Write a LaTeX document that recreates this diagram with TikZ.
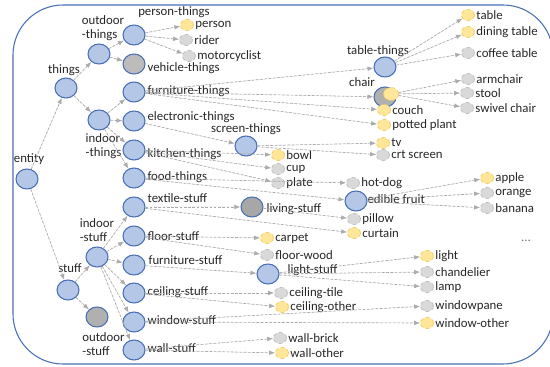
\documentclass[tikz,border=0pt]{standalone}
\usepackage{fontspec}
\setmainfont{Carlito}
\usetikzlibrary{shapes.geometric, arrows.meta}

\definecolor{nodeblue}{HTML}{B4C7E7}
\definecolor{lineblue}{HTML}{4A6FB5}
\definecolor{nodegrey}{HTML}{B0B0B0}
\definecolor{leafyellow}{HTML}{FFE699}
\definecolor{leafyellowline}{HTML}{F2C85A}
\definecolor{leafgrey}{HTML}{D9D9D9}
\definecolor{leafgreyline}{HTML}{BBBBBB}
\definecolor{linkgrey}{HTML}{ABABAB}

\begin{document}
\begin{tikzpicture}[
    x=0.75pt, y=-0.75pt,
    big/.style={ellipse, draw=lineblue, line width=0.8pt, fill=nodeblue, minimum width=16.5pt, minimum height=15pt, inner sep=0pt},
    biggrey/.style={big, fill=nodegrey},
    leaf/.style={ellipse, densely dashed, line width=0.5pt, minimum width=9.75pt, minimum height=8.25pt, inner sep=0pt, label distance=1.5pt},
    yleaf/.style={leaf, draw=leafyellowline, fill=leafyellow, label={[lbl]right:#1}},
    gleaf/.style={leaf, draw=leafgreyline, fill=leafgrey, label={[lbl]right:#1}},
    lbl/.style={font=\fontsize{9.6}{10.5}\selectfont, text=black!85, inner sep=1pt},
    link/.style={-{Latex[length=4.5pt, width=3.5pt]}, draw=linkgrey, fill=linkgrey, dash pattern=on 2pt off 1.2pt, line width=0.5pt},
]
\useasboundingbox (0,0) rectangle (550,367);

% frame
\draw[lineblue, line width=0.8pt, rounded corners=37.5pt] (13,5) rectangle (553,364);

%% NODES
    % root and first levels
    \node[big] (entity) at (27,179) {};
    \node[lbl] (entity_l) at (29,159) {entity};
    \node[big] (things) at (66,88) {};
    \node[lbl] (things_l) at (64,70) {things};
    \node[big] (stuff) at (68,290) {};
    \node[lbl] (stuff_l) at (70,268) {stuff};

    \node[big] (outdoor_things) at (99,54) {};
    \node[lbl, align=left] (outdoor_things_l) at (103,28.5) {outdoor\\-things};
    \node[big] (indoor_things) at (99,120) {};
    \node[lbl, align=left] (indoor_things_l) at (103.5,146) {indoor\\-things};
    \node[big] (indoor_stuff) at (97,257) {};
    \node[lbl, align=left] (indoor_stuff_l) at (97,230.5) {indoor\\-stuff};
    \node[biggrey] (outdoor_stuff) at (97,317) {};
    \node[lbl, align=left] (outdoor_stuff_l) at (103.5,344.5) {outdoor\\-stuff};

    % things
    \node[big] (person_things) at (134,35) {};
    \node[lbl] (person_things_l) at (174,12.5) {person-things};
    \node[biggrey, fill=nodegrey!85] (vehicle_things) at (134,64) {};
    \node[lbl, anchor=west] (vehicle_things_l) at (146,68) {vehicle-things};
    \node[big] (furniture_things) at (134,92) {};
    \node[lbl, anchor=west] (furniture_things_l) at (146,91) {furniture-things};
    \node[big] (electronic_things) at (134,121) {};
    \node[lbl, anchor=west] (electronic_things_l) at (146,117) {electronic-things};
    \node[big] (kitchen_things) at (134,150) {};
    \node[lbl, anchor=west] (kitchen_things_l) at (146,154) {kitchen-things};
    \node[big] (food_things) at (134,178) {};
    \node[lbl, anchor=west] (food_things_l) at (146,177) {food-things};

    % stuff
    \node[big] (textile_stuff) at (134,207) {};
    \node[lbl, anchor=west] (textile_stuff_l) at (146,198) {textile-stuff};
    \node[big] (floor_stuff) at (134,236) {};
    \node[lbl, anchor=west] (floor_stuff_l) at (146,236) {floor-stuff};
    \node[big] (furniture_stuff) at (134,265) {};
    \node[lbl, anchor=west] (furniture_stuff_l) at (147,260) {furniture-stuff};
    \node[big] (ceiling_stuff) at (134,293) {};
    \node[lbl, anchor=west] (ceiling_stuff_l) at (146,292) {ceiling-stuff};
    \node[big] (window_stuff) at (134,322) {};
    \node[lbl, anchor=west] (window_stuff_l) at (146,320) {window-stuff};
    \node[big] (wall_stuff) at (134,350) {};
    \node[lbl, anchor=west] (wall_stuff_l) at (146,348) {wall-stuff};

    % middle level
    \node[big] (screen_things) at (246,146) {};
    \node[lbl] (screen_things_l) at (246,129) {screen-things};
    \node[big] (table_things) at (385,67) {};
    \node[lbl] (table_things_l) at (378,51) {table-things};
    \node[biggrey] (chair) at (385,97) {};
    \node[leaf, draw=leafyellowline, fill=leafyellow, minimum width=11.25pt, minimum height=9.75pt] (chair_dot) at (391,94) {};
    \node[lbl] (chair_l) at (362,82) {chair};
    \node[biggrey, fill=nodegrey!95!black] (living_stuff) at (252,207) {};
    \node[lbl, anchor=west] (living_stuff_l) at (265,209) {living-stuff};
    \node[big] (edible_fruit) at (356,201) {};
    \node[lbl, anchor=west] (edible_fruit_l) at (366,199) {edible fruit};
    \node[big] (light_stuff) at (268,274) {};
    \node[lbl, anchor=west] (light_stuff_l) at (286,270) {light-stuff};

    % leaves
    \node[yleaf=person] (person) at (187,25) {};
    \node[gleaf=rider] (rider) at (186,40) {};
    \node[gleaf=motorcyclist] (motorcyclist) at (189,56) {};

    \node[yleaf=table] (table) at (468,15) {};
    \node[yleaf=dining table] (dining_table) at (468,32) {};
    \node[gleaf=coffee table] (coffee_table) at (468,53) {};
    \node[gleaf=armchair] (armchair) at (468,79) {};
    \node[gleaf=stool] (stool) at (467,93) {};
    \node[gleaf=swivel chair] (swivel_chair) at (467,108) {};
    \node[yleaf=couch] (couch) at (384,110) {};
    \node[yleaf=potted plant] (potted_plant) at (384,125) {};
    \node[yleaf=tv] (tv) at (383,143) {};
    \node[gleaf=crt screen] (crt_screen) at (383,155) {};

    \node[yleaf=bowl] (bowl) at (278,155) {};
    \node[gleaf=cup] (cup) at (278,169) {};
    \node[gleaf=plate] (plate) at (278,183) {};
    \node[gleaf=hot-dog] (hot_dog) at (353,183) {};
    \node[gleaf=pillow] (pillow) at (354,219) {};
    \node[yleaf=curtain] (curtain) at (354,233) {};
    \node[yleaf=apple] (apple) at (487,178) {};
    \node[gleaf=orange] (orange) at (487,193) {};
    \node[gleaf=banana] (banana) at (487,208) {};

    \node[yleaf=carpet] (carpet) at (267,238) {};
    \node[gleaf=floor-wood] (floor_wood) at (267,255) {};
    \node[yleaf=light] (light) at (427,256) {};
    \node[gleaf=chandelier] (chandelier) at (427,272) {};
    \node[gleaf=lamp] (lamp) at (427,287) {};
    \node[gleaf=ceiling-tile] (ceiling_tile) at (281,293) {};
    \node[yleaf=ceiling-other] (ceiling_other) at (282,307) {};
    \node[gleaf=windowpane] (windowpane) at (427,306) {};
    \node[yleaf=window-other] (window_other) at (427,323) {};
    \node[gleaf=wall-brick] (wall_brick) at (280,338) {};
    \node[yleaf=wall-other] (wall_other) at (282,353) {};

    \node[lbl, text=black!55] (more) at (526,241) {...};

%% CONNECTIONS
    % root
    \draw[link] (entity) -- (things);
    \draw[link] (entity) -- (stuff);
    \draw[link] (things) -- (outdoor_things);
    \draw[link] (things) -- (indoor_things);
    \draw[link] (stuff) -- (indoor_stuff);
    \draw[link] (stuff) -- (outdoor_stuff);

    % outdoor things
    \draw[link] (outdoor_things) -- (person_things);
    \draw[link] (outdoor_things) -- (vehicle_things);
    \foreach \leaf in {person, rider, motorcyclist}
        \draw[link] (person_things) -- (\leaf);

    % indoor things
    \foreach \kid in {furniture_things, electronic_things, kitchen_things, food_things}
        \draw[link] (indoor_things) -- (\kid);
    \foreach \kid in {table_things, chair, couch, potted_plant}
        \draw[link] (furniture_things) -- (\kid);
    \foreach \leaf in {table, dining_table, coffee_table}
        \draw[link] (table_things) -- (\leaf);
    \foreach \leaf in {armchair, stool, swivel_chair}
        \draw[link] (chair_dot) -- (\leaf);
    \draw[link] (electronic_things) -- (screen_things);
    \draw[link] (screen_things) -- (tv);
    \draw[link] (screen_things) -- (crt_screen);
    \foreach \leaf in {bowl, cup, plate}
        \draw[link] (kitchen_things) -- (\leaf);
    \draw[link] (food_things) -- (hot_dog);
    \draw[link] (food_things) -- (edible_fruit);
    \foreach \leaf in {apple, orange, banana}
        \draw[link] (edible_fruit) -- (\leaf);

    % indoor stuff
    \foreach \kid in {textile_stuff, floor_stuff, furniture_stuff, ceiling_stuff, window_stuff, wall_stuff}
        \draw[link] (indoor_stuff) -- (\kid);
    \draw[link] (textile_stuff) -- (living_stuff);
    \draw[link] (textile_stuff) -- (curtain);
    \draw[link] (living_stuff) -- (pillow);
    \draw[link] (floor_stuff) -- (carpet);
    \draw[link] (floor_stuff) -- (floor_wood);
    \draw[link] (furniture_stuff) -- (light_stuff);
    \foreach \leaf in {light, chandelier, lamp}
        \draw[link] (light_stuff) -- (\leaf);
    \draw[link] (ceiling_stuff) -- (ceiling_tile);
    \draw[link] (ceiling_stuff) -- (ceiling_other);
    \draw[link] (window_stuff) -- (windowpane);
    \draw[link] (window_stuff) -- (window_other);
    \draw[link] (wall_stuff) -- (wall_brick);
    \draw[link] (wall_stuff) -- (wall_other);

\end{tikzpicture}
\end{document}
